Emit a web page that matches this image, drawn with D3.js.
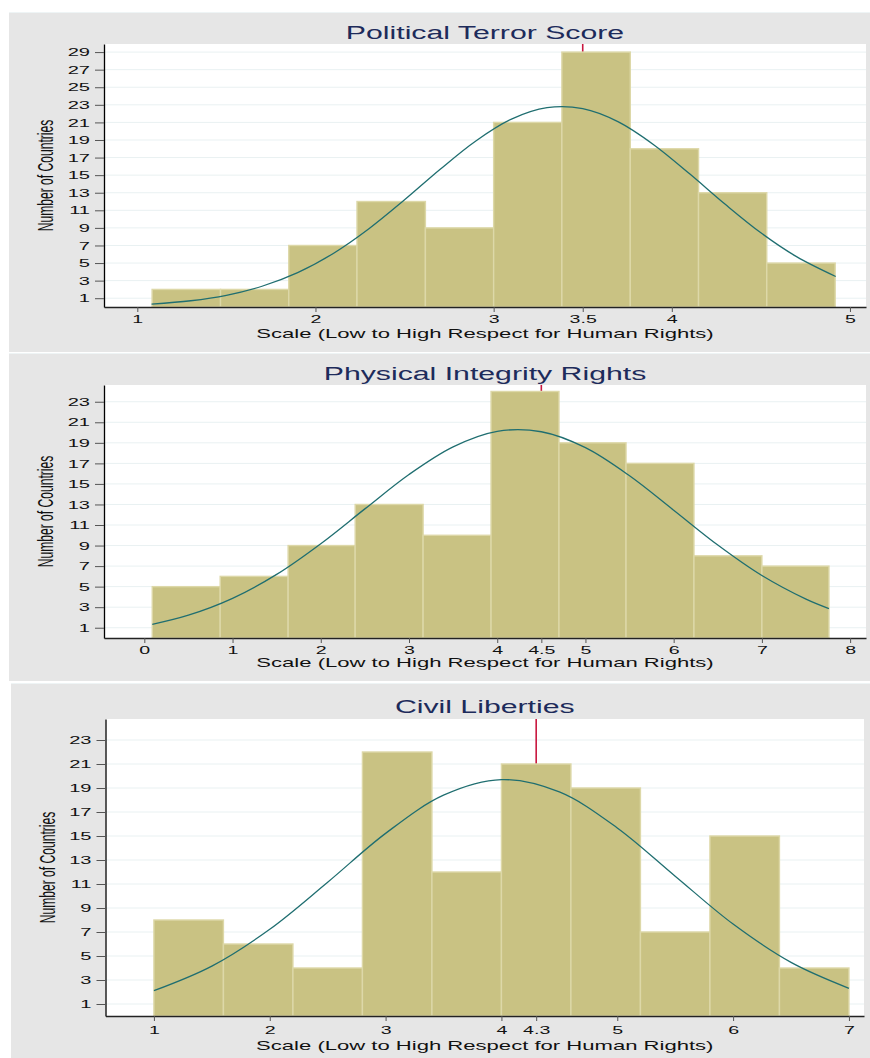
<!DOCTYPE html>
<html>
<head>
<meta charset="utf-8">
<script src="https://cdn.jsdelivr.net/npm/d3@7"></script>
<style>
  body { margin: 0; background: #fff; }
  svg { display: block; }
  text { font-family: 'Liberation Sans', Arial, Helvetica, sans-serif; }
</style>
</head>
<body>
<script>
// ---- data ----
const titles = ['Political Terror Score', 'Physical Integrity Rights', 'Civil Liberties'];
const xAxisTitle = 'Scale (Low to High Respect for Human Rights)';
const yAxisTitle = 'Number of Countries';

// Political Terror Score
const ptsEdges  = [1.083, 1.467, 1.85, 2.233, 2.617, 3.0, 3.383, 3.767, 4.15, 4.533, 4.917];
const ptsCounts = [2, 2, 7, 12, 9, 21, 29, 18, 13, 5];
const ptsCurveX = [1.08, 1.3, 1.5, 1.7, 1.9, 2.1, 2.3, 2.5, 2.7, 2.9, 3.1, 3.3, 3.5, 3.7, 3.9, 4.1, 4.3, 4.5, 4.7, 4.92];
const ptsCurveY = [0.33, 0.71, 1.33, 2.36, 3.91, 6.09, 8.9, 12.19, 15.67, 18.89, 21.37, 22.67, 22.56, 21.06, 18.44, 15.15, 11.68, 8.44, 5.73, 3.47];
const ptsMarker = 3.5;
const ptsXTicks = [1, 2, 3, 3.5, 4, 5];
const ptsYTicks = [1, 3, 5, 7, 9, 11, 13, 15, 17, 19, 21, 23, 25, 27, 29];

// Physical Integrity Rights
const pirEdges  = [0.09, 0.86, 1.63, 2.39, 3.16, 3.93, 4.7, 5.46, 6.23, 7.0, 7.76];
const pirCounts = [5, 6, 9, 13, 10, 24, 19, 17, 8, 7];
const pirCurveX = [0.09, 0.5, 1.0, 1.5, 2.0, 2.5, 3.0, 3.5, 4.0, 4.5, 5.0, 5.5, 6.0, 6.5, 7.0, 7.5, 7.76];
const pirCurveY = [1.33, 2.22, 3.86, 6.19, 9.18, 12.57, 15.92, 18.61, 20.12, 20.08, 18.53, 15.79, 12.44, 9.05, 6.08, 3.78, 2.86];
const pirMarker = 4.5;
const pirXTicks = [0, 1, 2, 3, 4, 4.5, 5, 6, 7, 8];
const pirYTicks = [1, 3, 5, 7, 9, 11, 13, 15, 17, 19, 21, 23];

// Civil Liberties
const clEdges  = [1.0, 1.6, 2.2, 2.8, 3.4, 4.0, 4.6, 5.2, 5.8, 6.4, 7.0];
const clCounts = [8, 6, 4, 22, 12, 21, 19, 7, 15, 4];
const clCurveX = [1.0, 1.5, 2.0, 2.5, 3.0, 3.5, 4.0, 4.5, 5.0, 5.5, 6.0, 6.5, 7.0];
const clCurveY = [2.11, 4.16, 7.23, 11.15, 15.22, 18.4, 19.7, 18.67, 15.67, 11.65, 7.66, 4.47, 2.31];
const clMarker = 4.3;
const clXTicks = [1, 2, 3, 4, 4.3, 5, 6, 7];
const clYTicks = [1, 3, 5, 7, 9, 11, 13, 15, 17, 19, 21, 23];

// ---- layout ----
const width = 870, height = 1058;
const SX = 1.75;   // the source picture is stretched sideways, so is its text

const colors = {
  panel: '#e6e6e6', sep: '#eef4f5', grid: '#e9f1f2',
  bar: '#c9c283', barEdge: '#ddd8a8', curve: '#1f6e70',
  marker: '#c8173f', title: '#1d2b5b', text: '#111', tick: '#555'
};

const panels = [
  { title: titles[0], edges: ptsEdges, counts: ptsCounts, cx: ptsCurveX, cy: ptsCurveY,
    marker: ptsMarker, xTicks: ptsXTicks, yTicks: ptsYTicks,
    bg: [9, 12, 861, 340], l: 104, r: 866, t: 44, b: 307,
    xDom: [0.813, 5.09], yMax: 29.92, titleY: 39, tickY: 8, labY: 337.5, yTitleX: 53 },
  { title: titles[1], edges: pirEdges, counts: pirCounts, cx: pirCurveX, cy: pirCurveY,
    marker: pirMarker, xTicks: pirXTicks, yTicks: pirYTicks,
    bg: [9, 353, 861, 328], l: 104, r: 866, t: 385, b: 638,
    xDom: [-0.457, 8.18], yMax: 24.63, titleY: 380, tickY: 7.6, labY: 666.6, yTitleX: 53 },
  { title: titles[2], edges: clEdges, counts: clCounts, cx: clCurveX, cy: clCurveY,
    marker: clMarker, xTicks: clXTicks, yTicks: clYTicks,
    bg: [11, 683, 859, 375], l: 105.5, r: 864, t: 719, b: 1016,
    xDom: [0.582, 7.13], yMax: 24.75, titleY: 713, tickY: 10, labY: 1049.5, yTitleX: 55 }
];

let svg = d3.select('body').append('svg')
  .attr('width', width)
  .attr('height', height);

svg.append('rect').attr('width', width).attr('height', height).attr('fill', '#fff');

// stretched text helper
let stretchText = (g, x, y, str, size, fill, anchor, sx, rotate) => {
  return g.append('text')
    .attr('transform', 'translate(' + x + ',' + y + ') scale(' + sx + ',1)' + (rotate ? ' rotate(-90)' : ''))
    .attr('text-anchor', anchor)
    .attr('font-size', size)
    .attr('fill', fill)
    .text(str);
}

let drawPanel = (p) => {
  let g = svg.append('g');

  // panel background + light separator on top
  g.append('rect')
    .attr('x', p.bg[0]).attr('y', p.bg[1])
    .attr('width', p.bg[2]).attr('height', p.bg[3])
    .attr('fill', colors.panel);
  g.append('line')
    .attr('x1', p.bg[0]).attr('x2', width)
    .attr('y1', p.bg[1] + 0.5).attr('y2', p.bg[1] + 0.5)
    .attr('stroke', colors.sep).attr('stroke-width', 1);

  // plot area
  g.append('rect')
    .attr('x', p.l).attr('y', p.t)
    .attr('width', p.r - p.l).attr('height', p.b - p.t)
    .attr('fill', '#fff');

  let x = d3.scaleLinear().domain(p.xDom).range([p.l, p.r]);
  let y = d3.scaleLinear().domain([0, p.yMax]).range([p.b, p.t]);

  // horizontal gridlines
  g.selectAll('.grid')
    .data(p.yTicks)
    .enter()
    .append('line')
    .attr('x1', p.l).attr('x2', p.r)
    .attr('y1', d => y(d)).attr('y2', d => y(d))
    .attr('stroke', colors.grid).attr('stroke-width', 1);

  // marker line (behind the bars)
  g.append('line')
    .attr('x1', x(p.marker)).attr('x2', x(p.marker))
    .attr('y1', p.t).attr('y2', p.b)
    .attr('stroke', colors.marker).attr('stroke-width', 1.6);

  // histogram bars
  g.selectAll('.bar')
    .data(p.counts)
    .enter()
    .append('rect')
    .attr('x', (d, i) => x(p.edges[i]))
    .attr('y', d => y(d))
    .attr('width', (d, i) => x(p.edges[i + 1]) - x(p.edges[i]))
    .attr('height', d => p.b - y(d))
    .attr('fill', colors.bar)
    .attr('stroke', colors.barEdge)
    .attr('stroke-width', 1.4);

  // normal density overlay
  let line = d3.line()
    .x(d => x(d[0]))
    .y(d => y(d[1]))
    .curve(d3.curveCatmullRom.alpha(0.5));
  g.append('path')
    .datum(d3.zip(p.cx, p.cy))
    .attr('d', line)
    .attr('fill', 'none')
    .attr('stroke', colors.curve)
    .attr('stroke-width', 1.3);

  // y axis
  let yAxis = d3.axisLeft(y).tickValues(p.yTicks).tickSize(9).tickSizeOuter(0);
  let ya = g.append('g')
    .attr('transform', 'translate(' + p.l + ',0)')
    .call(yAxis);
  ya.select('.domain').attr('stroke', '#000').attr('stroke-width', 1.3);
  ya.selectAll('.tick line').attr('stroke', colors.tick);
  ya.selectAll('.tick text')
    .attr('x', -14 / SX)
    .attr('transform', 'scale(' + SX + ',1)')
    .attr('font-size', 11.5)
    .attr('font-family', null)
    .attr('fill', colors.text);

  // x axis
  let xAxis = d3.axisBottom(x).tickValues(p.xTicks).tickSize(5).tickSizeOuter(0)
    .tickFormat(d3.format('~g'));
  let xa = g.append('g')
    .attr('transform', 'translate(0,' + p.b + ')')
    .call(xAxis);
  xa.select('.domain').attr('stroke', '#222').attr('stroke-width', 1.3);
  xa.selectAll('.tick line').attr('stroke', colors.tick);
  xa.selectAll('.tick text')
    .attr('y', p.tickY)
    .attr('transform', 'scale(' + SX + ',1)')
    .attr('font-size', 11.2)
    .attr('font-family', null)
    .attr('fill', colors.text);
  g.selectAll('.domain').attr('fill', 'none');

  // titles
  let cx = (p.l + p.r) / 2;
  stretchText(g, cx, p.titleY, p.title, 18, colors.title, 'middle', 1.68, false);
  stretchText(g, cx, p.labY, xAxisTitle, 13.1, colors.text, 'middle', 1.685, false);
  stretchText(g, p.yTitleX, (p.t + p.b) / 2, yAxisTitle, 12.1, colors.text, 'middle', 1.85, true);
}

panels.forEach(drawPanel);
</script>
</body>
</html>
